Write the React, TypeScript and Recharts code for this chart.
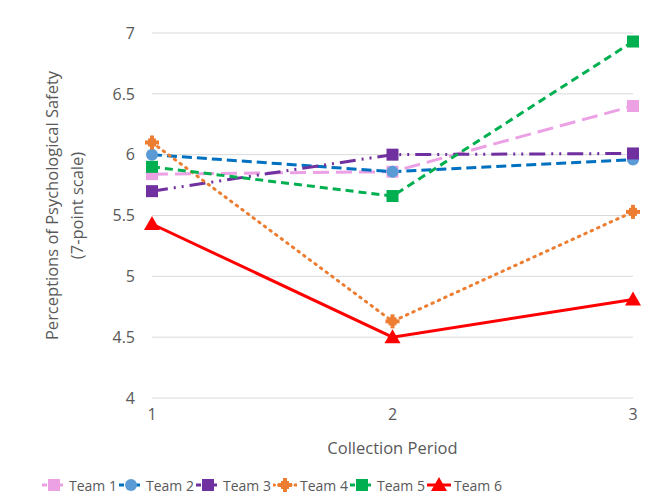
import React from "react";
import { LineChart, Line, XAxis, YAxis, CartesianGrid, Legend } from "recharts";

const periods = [1, 2, 3];
const yTicks = [4, 4.5, 5, 5.5, 6, 6.5, 7];

const team1 = [5.84, 5.86, 6.4];
const team2 = [6.0, 5.86, 5.96];
const team3 = [5.7, 6.0, 6.01];
const team4 = [6.1, 4.63, 5.53];
const team5 = [5.9, 5.66, 6.93];
const team6 = [5.43, 4.5, 4.81];

const data = periods.map((p, i) => ({
    period: p,
    team1: team1[i],
    team2: team2[i],
    team3: team3[i],
    team4: team4[i],
    team5: team5[i],
    team6: team6[i],
}));

type Shape = "square" | "circle" | "star" | "triangle";

const series: { key: string; name: string; line: string; fill: string; dash?: string; shape: Shape }[] = [
    { key: "team1", name: "Team 1", line: "#EBA1E4", fill: "#EBA1E4", dash: "16 7", shape: "square" },
    { key: "team2", name: "Team 2", line: "#0070C0", fill: "#5B9BD5", dash: "10 5", shape: "circle" },
    { key: "team3", name: "Team 3", line: "#7030A0", fill: "#7030A0", dash: "16 6 2 6 2 6", shape: "square" },
    { key: "team4", name: "Team 4", line: "#ED7D31", fill: "#ED7D31", dash: "1.5 5.5", shape: "star" },
    { key: "team5", name: "Team 5", line: "#00B050", fill: "#00B050", dash: "8 5", shape: "square" },
    { key: "team6", name: "Team 6", line: "#FF0000", fill: "#FF0000", shape: "triangle" },
];

const font = "'Open Sans', sans-serif";
const textColor = "#595959";

function Marker({ cx, cy, shape, fill }: { cx: number; cy: number; shape: Shape; fill: string }) {
    if (shape === "circle") return <circle cx={cx} cy={cy} r={6} fill={fill} />;
    if (shape === "square") return <rect x={cx - 6} y={cy - 6} width={12} height={12} fill={fill} />;
    if (shape === "triangle")
        return <path d={`M${cx},${cy - 8} L${cx + 8},${cy + 6} L${cx - 8},${cy + 6} Z`} fill={fill} />;
    // star-ish cross
    return (
        <g fill={fill}>
            <rect x={cx - 2} y={cy - 7} width={4} height={14} />
            <rect x={cx - 7} y={cy - 2} width={14} height={4} />
            <rect x={cx - 4} y={cy - 4} width={8} height={8} />
        </g>
    );
}

function renderDot(s: (typeof series)[number]) {
    return (props: any) => {
        const { cx, cy, index } = props;
        if (cx == null || cy == null) return <g key={index} />;
        return <Marker key={index} cx={cx} cy={cy} shape={s.shape} fill={s.fill} />;
    };
}

function LegendContent() {
    return (
        <div style={{ display: "flex", paddingLeft: 42, height: 30, alignItems: "center", fontFamily: font, fontSize: 14, color: textColor }}>
            {series.map((s) => (
                <div key={s.key} style={{ display: "flex", alignItems: "center", width: 77, flexShrink: 0, whiteSpace: "nowrap" }}>
                    <svg width={24} height={16} style={{ flexShrink: 0 }}>
                        <line x1={0} y1={8} x2={24} y2={8} stroke={s.line} strokeWidth={3} strokeDasharray={s.dash ? (s.key === "team4" ? "1.5 4" : "5 3") : undefined} strokeLinecap={s.key === "team4" ? "round" : "butt"} />
                        <Marker cx={12} cy={8} shape={s.shape} fill={s.fill} />
                    </svg>
                    <span style={{ marginLeft: 3 }}>{s.name}</span>
                </div>
            ))}
        </div>
    );
}

function YLabel({ viewBox }: any) {
    const cy = viewBox ? viewBox.y + viewBox.height / 2 : 215;
    return (
        <g fontFamily={font} fontSize={16.5} fill={textColor} textAnchor="middle">
            <text transform={`translate(58, ${cy - 10}) rotate(-90)`}>Perceptions of Psychological Safety</text>
            <text transform={`translate(83, ${cy - 10}) rotate(-90)`}>(7-point scale)</text>
        </g>
    );
}

export default function App() {
    return (
        <div style={{ position: "relative", width: 670, height: 504, margin: -8, background: "#fff" }}>
            <LineChart width={670} height={504} data={data} margin={{ top: 33, right: 37, left: 112, bottom: 4 }}>
                <CartesianGrid vertical={false} stroke="#d9d9d9" />
                <XAxis
                    dataKey="period"
                    type="number"
                    domain={[1, 3]}
                    ticks={periods}
                    axisLine={false}
                    tickLine={false}
                    height={72}
                    tickMargin={5}
                    tick={{ fill: textColor, fontSize: 16, fontFamily: font }}
                    label={{ value: "Collection Period", position: "insideBottom", offset: 16, fill: textColor, fontSize: 16.5, fontFamily: font }}
                />
                <YAxis
                    domain={[4, 7]}
                    ticks={yTicks}
                    axisLine={false}
                    tickLine={false}
                    width={40}
                    tickMargin={11}
                    tick={{ fill: textColor, fontSize: 16, fontFamily: font }}
                    label={{ content: YLabel }}
                />
                <Legend verticalAlign="bottom" content={LegendContent} wrapperStyle={{ left: 0, width: 670 }} />
                {series.map((s) => (
                    <Line
                        key={s.key}
                        dataKey={s.key}
                        name={s.name}
                        stroke={s.line}
                        strokeWidth={3}
                        strokeDasharray={s.dash}
                        strokeLinecap={s.key === "team4" ? "round" : "butt"}
                        dot={renderDot(s)}
                        activeDot={false}
                        isAnimationActive={false}
                    />
                ))}
            </LineChart>
            {/* chart frame: only its top and left edges fall inside the picture */}
            <svg width={670} height={504} style={{ position: "absolute", left: 0, top: 0, zIndex: 10, pointerEvents: "none" }}>
                <path d="M7,504 L7,7 L670,7" fill="none" stroke="#a6a6a6" strokeWidth={1.5} />
            </svg>
        </div>
    );
}
